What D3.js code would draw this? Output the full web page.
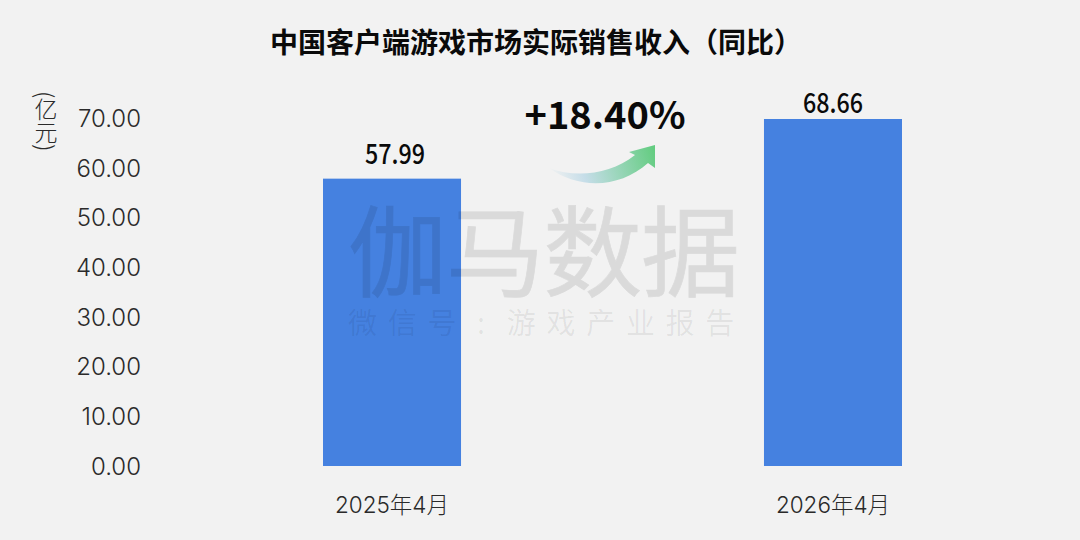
<!DOCTYPE html>
<html><head><meta charset="utf-8">
<script src="https://cdn.jsdelivr.net/npm/d3@7/dist/d3.min.js"></script>
<style>html,body{margin:0;padding:0;background:#f2f2f2}svg{display:block}</style>
</head><body><svg id="c" width="1080" height="540"></svg>
<script>
const categories = ["2025年4月", "2026年4月"];
const valueLabels = ["57.99", "68.66"];
const barLevels = [57.8, 69.8];
const yTicks = [0, 10, 20, 30, 40, 50, 60, 70];
const titleText = "中国客户端游戏市场实际销售收入（同比）";
const growthText = "+18.40%";
const unitText = "(亿元)";
const watermark = "伽马数据";
const watermarkSub = "微信号:游戏产业报告";

const FONT = '"Noto Sans CJK SC","Noto Sans",sans-serif';
const NUMFONT = 'Inter,"Noto Sans CJK SC",sans-serif';
const svg = d3.select("#c");
const x = d3.scaleBand().domain(categories).range([323, 902]).paddingInner(0.687).paddingOuter(0);
const y = d3.scaleLinear().domain([0, 70]).range([466, 118]);
const labelGaps = [15, 6];
const labelShift = [3, 0];

const defs = svg.append("defs");
const g = defs.append("linearGradient").attr("id","arrowG").attr("gradientUnits","userSpaceOnUse")
  .attr("x1",552).attr("y1",180).attr("x2",655).attr("y2",148);
g.append("stop").attr("offset","0").attr("stop-color","#f2f2f2");
g.append("stop").attr("offset","0.3").attr("stop-color","#c5dde8");
g.append("stop").attr("offset","1").attr("stop-color","#62cc7f");

svg.append("text").attr("x",536).attr("y",53).attr("text-anchor","middle")
  .attr("font-family",FONT).attr("font-size",28).attr("font-weight",700).attr("fill","#0a0a0a")
  .text(titleText);

const axis = d3.axisLeft(y).tickValues(yTicks).tickFormat(d3.format(".2f")).tickSize(0).tickPadding(0);
const ag = svg.append("g").attr("transform","translate(141,0)").call(axis);
ag.select(".domain").remove();
ag.selectAll("text").attr("font-family",NUMFONT).attr("font-size",24).attr("font-weight",300).attr("fill","#2a2a2a").attr("dy","0.35em");

svg.append("text").attr("x",46).attr("y",91)
  .style("writing-mode","vertical-rl")
  .attr("font-family",FONT).attr("font-size",23).attr("font-weight",300).attr("fill","#2a2a2a").text(unitText);

svg.append("g").selectAll("rect").data(categories).join("rect")
  .attr("x",d=>x(d)).attr("width",x.bandwidth())
  .attr("y",(d,i)=>y(barLevels[i])).attr("height",(d,i)=>y(0)-y(barLevels[i]))
  .attr("fill","#4581e0");

svg.append("g").selectAll("text").data(categories).join("text")
  .attr("x",(d,i)=>x(d)+x.bandwidth()/2+labelShift[i]).attr("y",(d,i)=>y(barLevels[i])-labelGaps[i])
  .attr("text-anchor","middle").attr("font-family",FONT).attr("font-size",27).attr("font-weight",500).attr("fill","#0a0a0a")
  .attr("textLength",60).attr("lengthAdjust","spacingAndGlyphs")
  .text((d,i)=>valueLabels[i]);

svg.append("g").selectAll("text").data(categories).join("text")
  .attr("x",d=>x(d)+x.bandwidth()/2).attr("y",513)
  .attr("text-anchor","middle").attr("font-family",NUMFONT).attr("font-size",22.5).attr("font-weight",300).attr("fill","#2a2a2a")
  .text(d=>d);

svg.append("text").attr("x",605).attr("y",129).attr("text-anchor","middle")
  .attr("font-family",FONT).attr("font-size",38).attr("font-weight",700).attr("fill","#0a0a0a").text(growthText);

svg.append("path").attr("fill","url(#arrowG)")
  .attr("d","M549,168 C575,178 610,175 635,155 L629,152 L655,145 L655,168 L648,163 C620,188 580,190 549,168 Z");

const wm = svg.append("g");
wm.append("text").attr("x",348).attr("y",289).attr("font-family",FONT).attr("font-size",99).attr("font-weight",400)
  .attr("fill","#000").attr("stroke","#000").attr("stroke-width",0.7).attr("opacity",0.095).attr("textLength",392).text(watermark);
wm.append("text").attr("y",334).attr("font-family",FONT).attr("font-size",29).attr("font-weight",400)
  .attr("fill","#000").attr("fill-opacity",0.07)
  .attr("x",Array.from(watermarkSub,(c,i)=>348+39.7*i+(c===":"?10:0)).join(" "))
  .text(watermarkSub);
</script></body></html>
